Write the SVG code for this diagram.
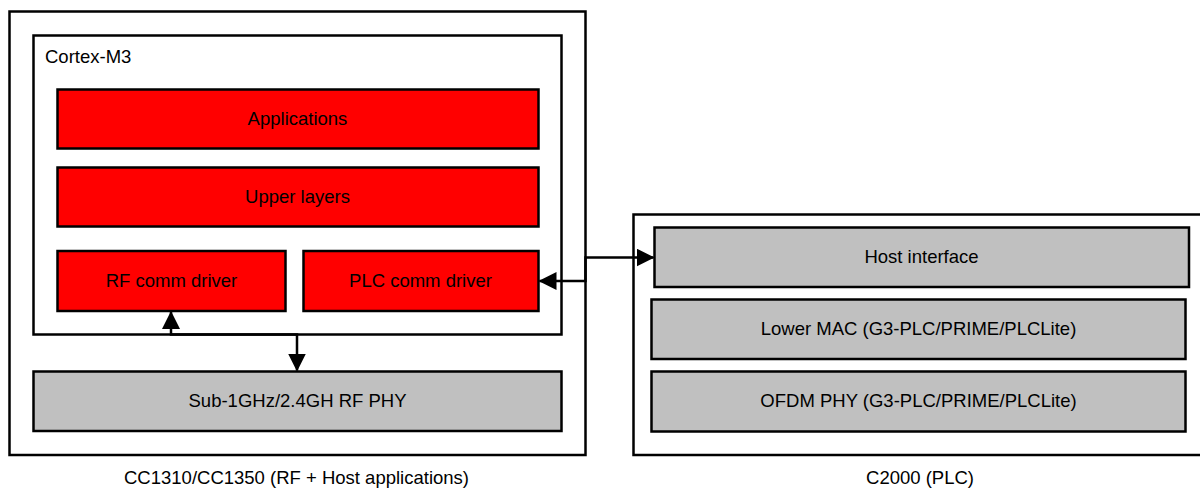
<svg xmlns="http://www.w3.org/2000/svg" width="1200" height="489" viewBox="0 0 1200 489">
<style>
.frame{fill:#fff;stroke:#000;stroke-width:2.5}
.red{fill:#ff0000;stroke:#000;stroke-width:2.5}
.gray{fill:#c0c0c0;stroke:#000;stroke-width:2.5}
text{font-family:"Liberation Sans",Arial,Helvetica,sans-serif;font-size:18.5px;fill:#000}
.c{text-anchor:middle}
.conn{fill:none;stroke:#000;stroke-width:2.5;marker-start:url(#ah);marker-end:url(#ah)}
</style>
<defs>
<marker id="ah" markerUnits="userSpaceOnUse" markerWidth="18" markerHeight="18" refX="17" refY="9" orient="auto-start-reverse">
<path d="M0,0 L18,9 L0,18 z" fill="#000"/>
</marker>
</defs>
<rect width="1200" height="489" fill="#fff"/>
<g id="cc1310">
<rect class="frame" x="9.5" y="11.5" width="576" height="443.5"/>
<text class="c" x="296.5" y="483.5">CC1310/CC1350 (RF + Host applications)</text>
</g>
<g id="cortex">
<rect class="frame" x="33.5" y="35.5" width="528" height="299"/>
<text x="45" y="62.5">Cortex-M3</text>
</g>
<g id="applications">
<rect class="red" x="57.5" y="89.5" width="481" height="59"/>
<text class="c" x="297.5" y="125">Applications</text>
</g>
<g id="upper">
<rect class="red" x="57.5" y="167.5" width="481" height="59"/>
<text class="c" x="297.5" y="203">Upper layers</text>
</g>
<g id="rfdriver">
<rect class="red" x="57.5" y="251" width="228" height="60"/>
<text class="c" x="171.5" y="287">RF comm driver</text>
</g>
<g id="plcdriver">
<rect class="red" x="303.5" y="251" width="235" height="60"/>
<text class="c" x="420.5" y="287">PLC comm driver</text>
</g>
<g id="rfphy">
<rect class="gray" x="33.5" y="371.5" width="528" height="59.5"/>
<text class="c" x="297.5" y="407">Sub-1GHz/2.4GH RF PHY</text>
</g>
<g id="c2000">
<rect class="frame" x="633.5" y="214.5" width="580" height="240.5"/>
<text class="c" x="920" y="483.5">C2000 (PLC)</text>
</g>
<g id="host">
<rect class="gray" x="654.5" y="227.5" width="534.5" height="59.5"/>
<text class="c" x="921.5" y="263">Host interface</text>
</g>
<g id="lowermac">
<rect class="gray" x="651.5" y="299.5" width="534" height="59.5"/>
<text class="c" x="918.5" y="335">Lower MAC (G3-PLC/PRIME/PLCLite)</text>
</g>
<g id="ofdm">
<rect class="gray" x="651.5" y="371.5" width="534" height="60"/>
<text class="c" x="918.5" y="407">OFDM PHY (G3-PLC/PRIME/PLCLite)</text>
</g>
<g id="connectors">
<path class="conn" d="M171,312 V334.5 H297 V370.5"/>
<path class="conn" d="M539.5,281 H585.5 V257.5 H653.5"/>
</g>
</svg>
